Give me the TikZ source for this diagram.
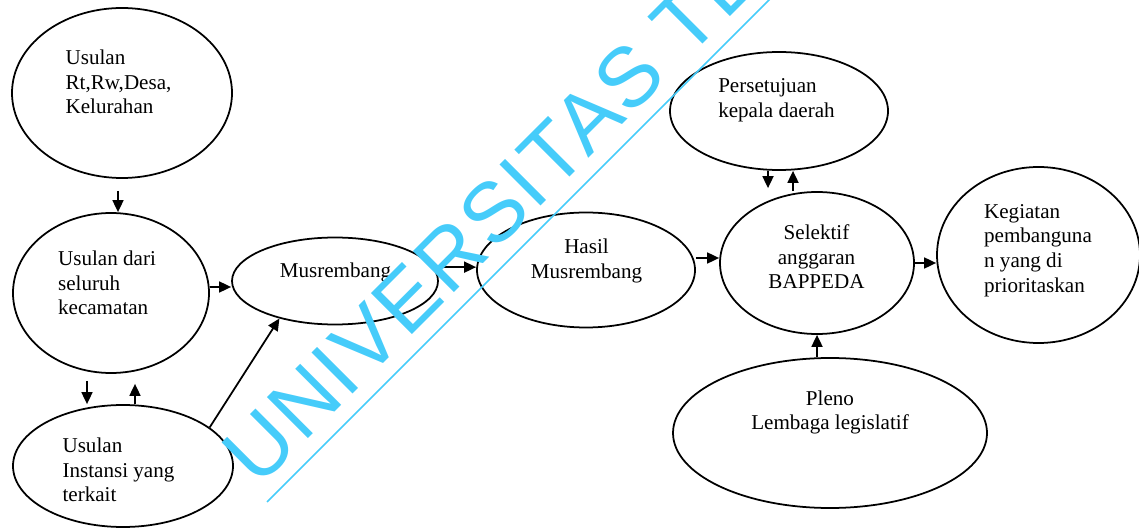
\documentclass[tikz,border=0pt]{standalone}
\usepackage{fontspec}
\setmainfont{Liberation Serif}
\newfontfamily\wmfont[LetterSpace=3]{Liberation Sans}
\usetikzlibrary{shapes.geometric,arrows.meta}
\definecolor{wmcyan}{RGB}{70,204,250}

\begin{document}
\begin{tikzpicture}[
    bub/.style={draw, line width=1pt, ellipse, inner sep=0pt},
    txt/.style={font=\fontsize{12}{14}\selectfont, inner sep=0pt},
    arr/.style={line width=1pt, -{Triangle[length=0.24cm,width=0.22cm]}},
    wm/.style={font=\wmfont\fontsize{48}{48}\selectfont, text=wmcyan, inner sep=0pt}]
        \useasboundingbox (0,0) rectangle (22.78,10.62);

        \node[bub, minimum width=4.4cm,  minimum height=3.4cm]  (rt)  at (2.44,8.76)  {};
        \node[bub, minimum width=3.92cm, minimum height=3.2cm]  (kec) at (2.22,4.76)  {};
        \node[bub, minimum width=4.4cm,  minimum height=2.44cm] (ins) at (2.46,1.30)  {};
        \node[bub, minimum width=4.12cm, minimum height=1.74cm] (mus) at (6.70,5.00)  {};
        \node[bub, minimum width=4.36cm, minimum height=2.3cm]  (has) at (11.72,5.22) {};
        \node[bub, minimum width=4.36cm, minimum height=2.36cm] (per) at (15.58,8.40) {};
        \node[bub, minimum width=3.88cm, minimum height=2.84cm] (sel) at (16.34,5.36) {};
        \node[bub, minimum width=4.06cm, minimum height=3.52cm] (keg) at (20.77,5.52) {};
        \node[bub, minimum width=6.28cm, minimum height=3.0cm]  (ple) at (16.60,1.96) {};

        \node[txt, align=left]   (rt-t)  at (2.37,8.98)  {Usulan\\Rt,Rw,Desa,\\Kelurahan};
        \node[txt, align=left]   (kec-t) at (2.14,4.96)  {Usulan dari\\seluruh\\kecamatan};
        \node[txt, align=left]   (ins-t) at (2.37,1.22)  {Usulan\\Instansi yang\\terkait};
        \node[txt]               (mus-t) at (6.71,5.18)  {Musrembang};
        \node[txt, align=center] (has-t) at (11.73,5.40) {Hasil\\Musrembang};
        \node[txt, align=left]   (per-t) at (15.53,8.61) {Persetujuan\\kepala daerah};
        \node[txt, align=center] (sel-t) at (16.33,5.48) {Selektif\\anggaran\\BAPPEDA};
        \node[txt, align=left]   (keg-t) at (20.76,5.61) {Kegiatan\\pembanguna\\n yang di\\prioritaskan};
        \node[txt, align=center] (ple-t) at (16.60,2.37) {Pleno\\Lembaga legislatif};

        \draw [arr, shorten <=0.24cm] ([xshift=-0.08cm]rt.south) -- ([xshift=-0.08cm]rt.south |- kec.north);
        \draw [arr, shorten <=0.14cm] ([xshift=-0.48cm]kec.south) -- ([xshift=-0.48cm]kec.south |- ins.north);
        \draw [arr, shorten >=0.2cm]  ([xshift=0.48cm]kec.south |- ins.north) -- ([xshift=0.48cm]kec.south);
        \draw [arr]  ([yshift=0.12cm]kec.east) -- ([yshift=0.12cm]kec.east -| mus.west);
        \draw [arr]  (ins.24) -- (mus.214);
        \draw [arr]  (mus.8) -- (mus.8 -| has.west);
        \draw [arr]  ([yshift=0.1cm]sel.west -| has.east) -- ([yshift=0.1cm]sel.west);
        \draw [arr, shorten >=0.06cm] ([xshift=-0.22cm]per.south) -- ([xshift=-0.22cm]per.south |- sel.north);
        \draw [arr]  ([xshift=0.28cm]per.south |- sel.north) -- ([xshift=0.28cm]per.south);
        \draw [arr]  (sel.east) -- (sel.east -| keg.west);
        \draw [arr]  (sel.south |- ple.north) -- (sel.south);

        \begin{scope}
          \clip (0,0) rectangle (22.78,10.62);
          \node[wm, rotate=45, anchor=base west] (wm) at (5.16,0.84) {UNIVERSITAS TE};
          \coordinate (wm-a) at (5.34,0.58);
          \draw [wmcyan, line width=0.9pt]  (wm-a) -- ++(45:16);
        \end{scope}
\end{tikzpicture}
\end{document}
